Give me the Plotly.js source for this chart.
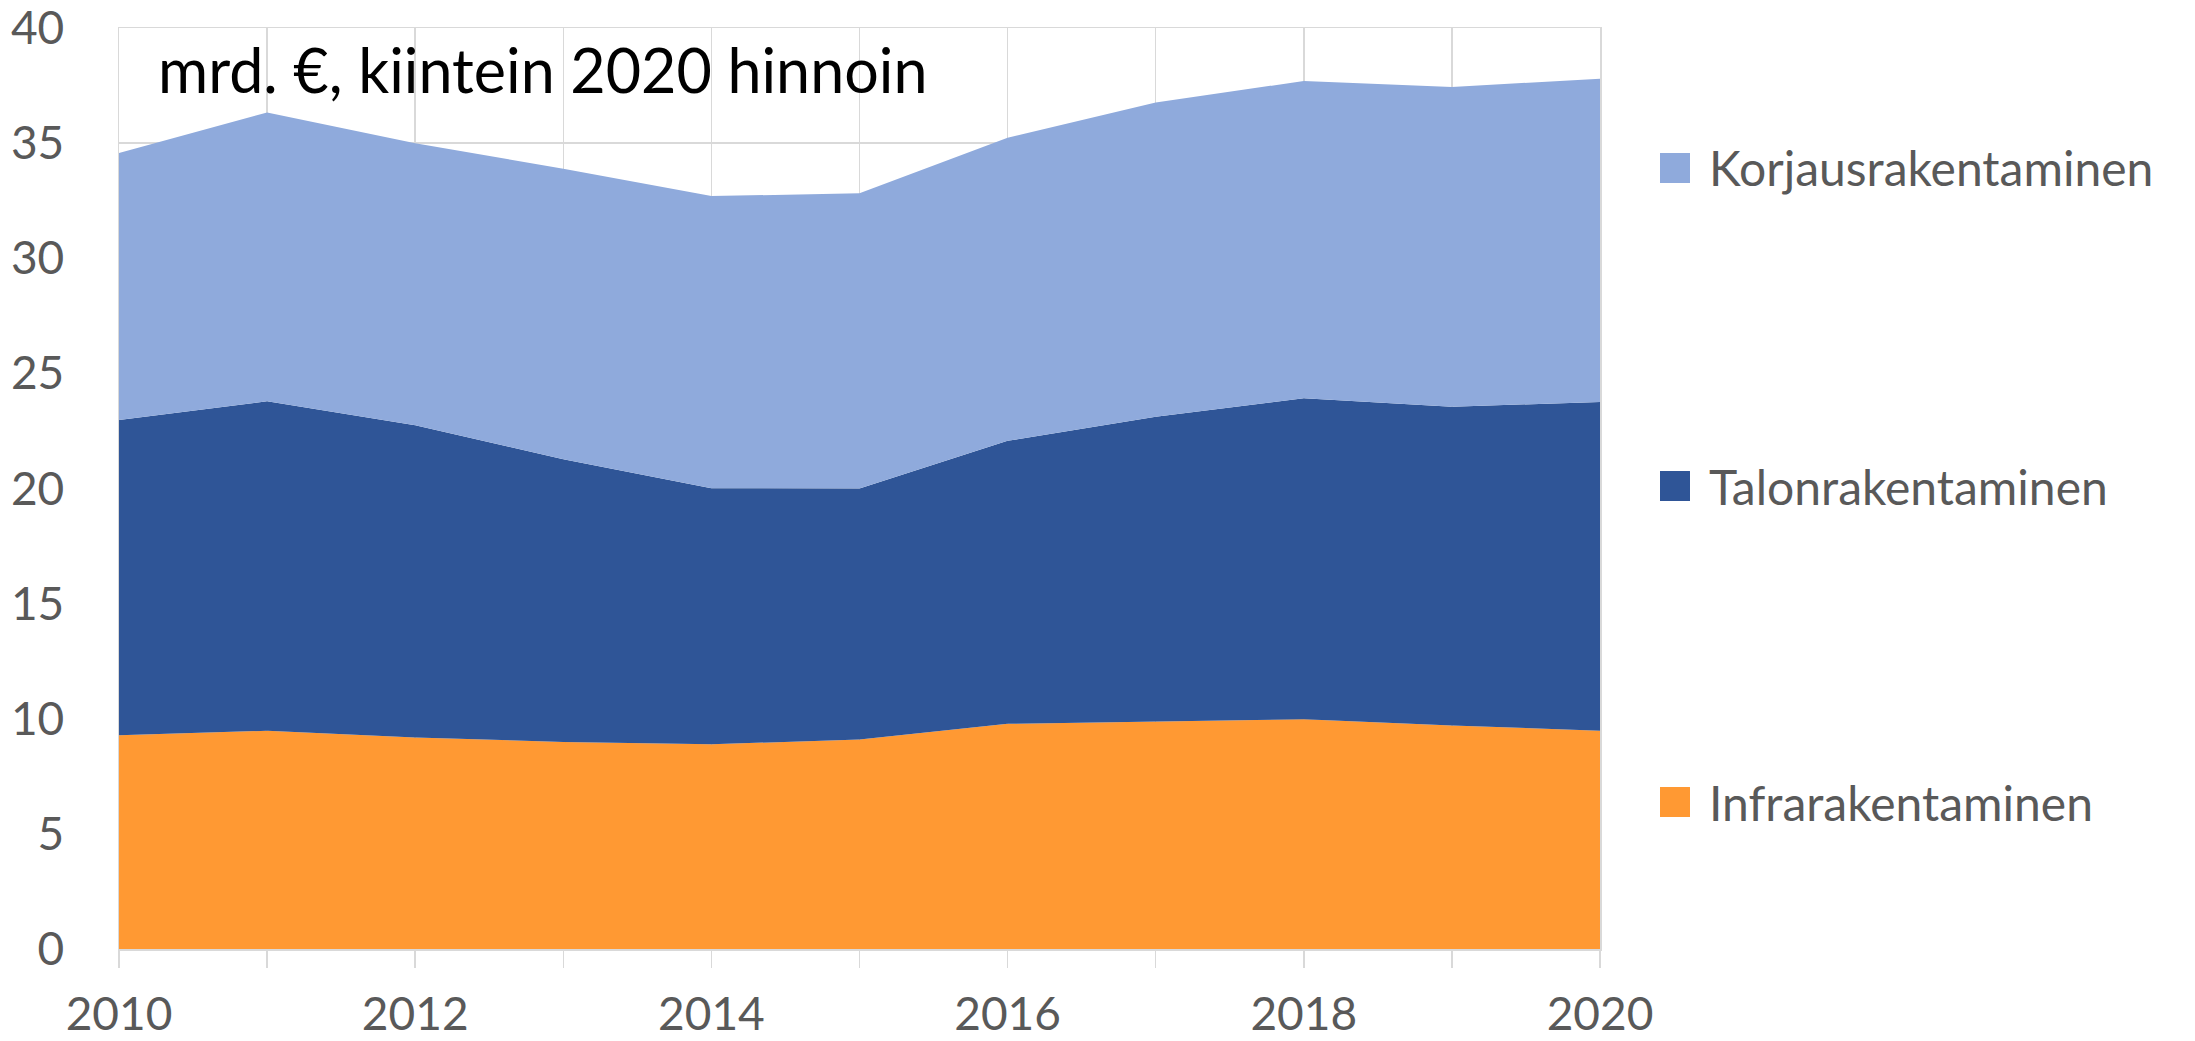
<!DOCTYPE html>
<html>
<head>
<meta charset="utf-8">
<script src="https://cdn.plot.ly/plotly-3.0.1.min.js"></script>
<style>
html, body { margin: 0; padding: 0; background: #ffffff; }
#chart { width: 2195px; height: 1041px; }
</style>
</head>
<body>
<div id="chart"></div>
<script>
// ---- Data ----
var years = [2010, 2011, 2012, 2013, 2014, 2015, 2016, 2017, 2018, 2019, 2020];
var infrarakentaminen = [9.28, 9.48, 9.19, 8.99, 8.89, 9.10, 9.78, 9.89, 9.98, 9.71, 9.48];
var talonrakentaminen = [13.70, 14.31, 13.56, 12.28, 11.12, 10.90, 12.29, 13.23, 13.94, 13.84, 14.28];
var korjausrakentaminen = [11.59, 12.54, 12.25, 12.62, 12.69, 12.82, 13.16, 13.64, 13.78, 13.89, 14.04];

var seriesNames = ["Infrarakentaminen", "Talonrakentaminen", "Korjausrakentaminen"];
var seriesColors = ["#FF9933", "#2F5597", "#8FAADC"];
var seriesValues = [infrarakentaminen, talonrakentaminen, korjausrakentaminen];

var yTicks = [0, 5, 10, 15, 20, 25, 30, 35, 40];
var xTickLabels = years.map(function (y) { return (y % 2 === 0) ? String(y) : ""; });
var chartTitle = "mrd. €, kiintein 2020 hinnoin";

var FONT = "Lato, 'Open Sans', sans-serif";
var GRID = "#d9d9d9";
var TEXT = "#595959";

// ---- Traces ----
var traces = seriesNames.map(function (name, i) {
  return {
    type: "scatter",
    mode: "lines",
    name: name,
    x: years,
    y: seriesValues[i],
    stackgroup: "one",
    line: { width: 0, color: seriesColors[i] },
    fillcolor: seriesColors[i],
    showlegend: false,
    hoverinfo: "skip"
  };
});

// ---- Manual legend (Korjaus on top, Infra at bottom) ----
var legendY = [0.1596, 0.5027, 0.848]; // paper y of each item centre, same order as seriesNames
var sqH = 30 / 921, sqW = 30 / 1481;
var shapes = [];
var annotations = [];
seriesNames.forEach(function (name, i) {
  shapes.push({
    type: "rect", xref: "paper", yref: "paper",
    x0: 1.0405, x1: 1.0405 + sqW,
    y0: legendY[i] - sqH / 2, y1: legendY[i] + sqH / 2,
    fillcolor: seriesColors[i], line: { width: 0 }
  });
  annotations.push({
    xref: "paper", yref: "paper", x: 1.0722, y: legendY[i],
    xanchor: "left", yanchor: "middle", showarrow: false,
    text: name, font: { family: FONT, size: 48, color: TEXT }
  });
});
annotations.push({
  xref: "paper", yref: "paper", x: 0.025, y: 0.955,
  xanchor: "left", yanchor: "middle", showarrow: false,
  text: chartTitle, font: { family: FONT, size: 61, color: "#000000" }
});

var layout = {
  width: 2195, height: 1041,
  margin: { l: 119, r: 595, t: 28, b: 92, pad: 0 },
  paper_bgcolor: "#ffffff",
  plot_bgcolor: "#ffffff",
  font: { family: FONT, color: TEXT },
  showlegend: false,
  xaxis: {
    range: [2010, 2020],
    tickmode: "array",
    tickvals: years,
    ticktext: xTickLabels,
    ticks: "outside",
    ticklen: 17,
    tickwidth: 1.5,
    tickcolor: GRID,
    showgrid: true,
    gridcolor: GRID,
    gridwidth: 1.5,
    showline: true,
    mirror: true,
    linecolor: GRID,
    linewidth: 1.5,
    zeroline: false,
    ticklabelstandoff: 7,
    ticklabeloverflow: "allow",
    tickfont: { family: FONT, size: 46, color: TEXT },
    fixedrange: true
  },
  yaxis: {
    range: [0, 40],
    tickmode: "array",
    tickvals: yTicks,
    ticktext: yTicks.map(String),
    ticks: "",
    showgrid: true,
    gridcolor: GRID,
    gridwidth: 1.5,
    showline: true,
    mirror: true,
    linecolor: GRID,
    linewidth: 1.5,
    zeroline: false,
    ticklabelstandoff: 44,
    ticklabeloverflow: "allow",
    tickfont: { family: FONT, size: 46, color: TEXT },
    fixedrange: true
  },
  shapes: shapes,
  annotations: annotations
};

Plotly.newPlot("chart", traces, layout, { staticPlot: true, displayModeBar: false });
</script>
</body>
</html>
